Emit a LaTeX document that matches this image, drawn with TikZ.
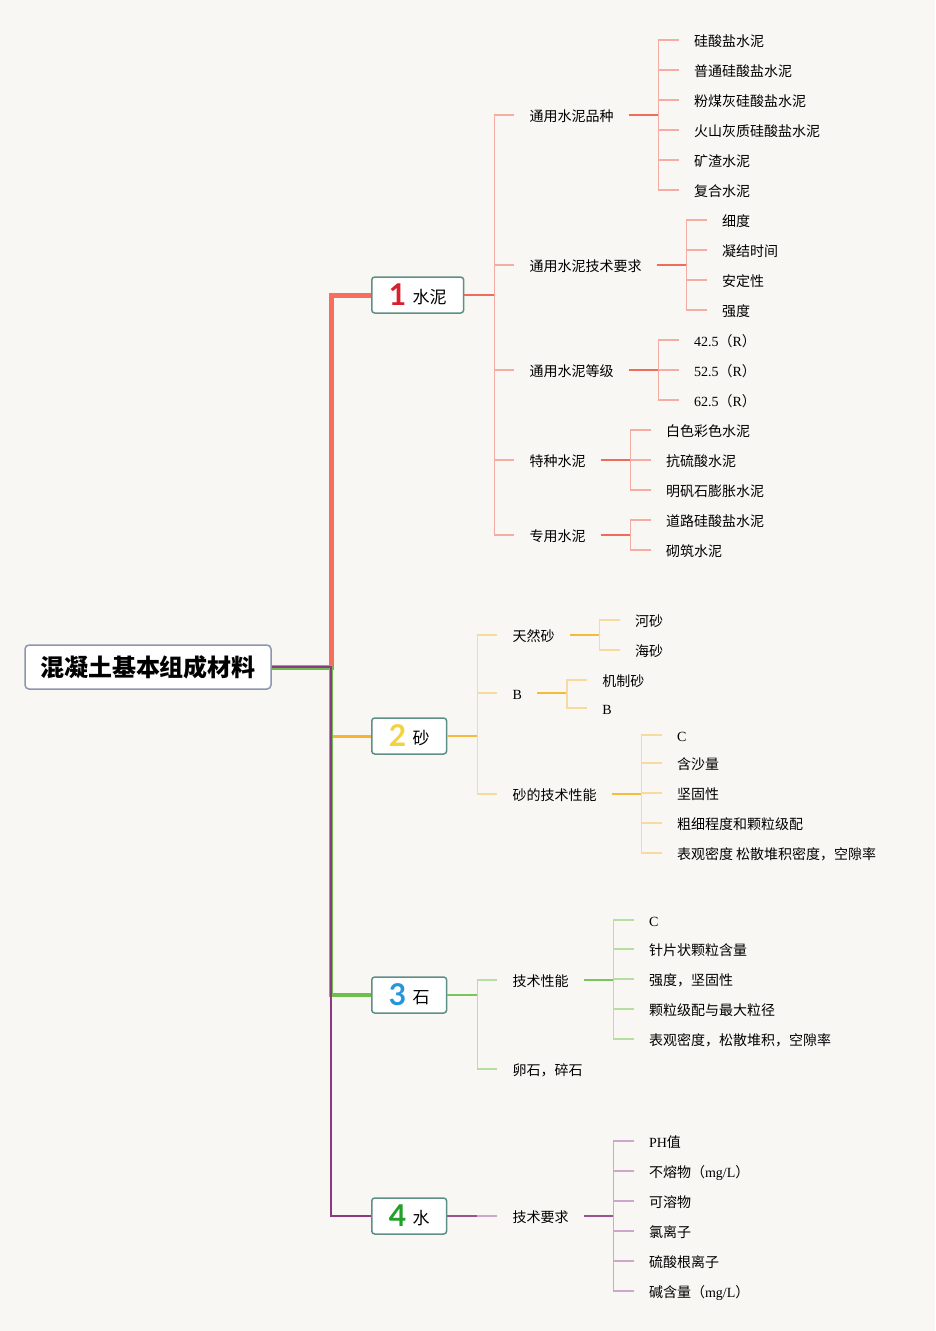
\documentclass[tikz,border=0pt]{standalone}
\usepackage{fontspec}
\setmainfont{Liberation Serif}
\newfontfamily\cjk{Noto Sans CJK SC}
\newfontfamily\numfont{Lato}
\usetikzlibrary{calc}

\definecolor{bg}{HTML}{F8F7F4}
\definecolor{boxline}{HTML}{5E8F86}
\definecolor{rootline}{HTML}{8C96B0}
% couleurs des branches
\definecolor{redtrunk}{HTML}{F76D5E}
\definecolor{redstub}{HTML}{EF6C5C}
\definecolor{redtwig}{HTML}{F5ADA3}
\definecolor{orangetrunk}{HTML}{F7B52E}
\definecolor{orangestub}{HTML}{F5BC3C}
\definecolor{orangetwig}{HTML}{F9DA9E}
\definecolor{greentrunk}{HTML}{6DBF4B}
\definecolor{greenstub}{HTML}{7CC55D}
\definecolor{greentwig}{HTML}{B6E0A2}
\definecolor{purpletrunk}{HTML}{8B3A82}
\definecolor{purplestub}{HTML}{9A5292}
\definecolor{purpletwig}{HTML}{CFA7CA}
\definecolor{numred}{HTML}{D9202F}
\definecolor{numyellow}{HTML}{F2D23E}
\definecolor{numblue}{HTML}{2497DC}
\definecolor{numgreen}{HTML}{22A02A}

\newcommand{\serif}[1]{{\rmfamily #1}}
\newcommand{\digit}[2]{{\numfont\bfseries\fontsize{30}{30}\selectfont\color{#1}#2}}
% une fourche : parent -> enfants
\newcommand{\branch}[3]{%
  \draw[stub=#2] (#1.east) -- ++(30,0) coordinate (#1-b);
  \coordinate (#1-k) at ($(#1-b)+(20,0)$);
  \foreach \ty/\lbl [count=\i] in {#3} {
    \node[leaf] (#1-\i) at (#1-k |- 0,\ty) {\lbl};
    \draw[twig=#2] (#1-b) |- (#1-\i.west);
  }%
}

\begin{document}
\begin{tikzpicture}[
  x=1pt, y=-1pt,
  root/.style={draw=rootline, line width=1.5pt, fill=white, rounded corners=4pt,
    minimum width=246pt, minimum height=44pt, inner sep=0pt,
    font=\cjk\bfseries\fontsize{24}{28}\selectfont},
  box/.style={draw=boxline, line width=1.5pt, fill=white, rounded corners=3pt,
    anchor=west, minimum height=36pt, inner xsep=17pt, inner ysep=0pt,
    font=\cjk\fontsize{17}{20}\selectfont},
  leaf/.style={anchor=west, inner xsep=15pt, inner ysep=2pt,
    text height=14pt, text depth=1pt, font=\cjk\fontsize{14}{17}\selectfont},
  trunk/.style={draw=#1trunk},
  stub/.style={draw=#1stub, line width=1.6pt},
  twig/.style={draw=#1twig, line width=1.3pt},
]
  \fill[bg] (0,0) rectangle (935,1331);
  \useasboundingbox (0,0) rectangle (935,1331);

  % Racine et tronc
  \node[root] (root) at (148,667) {混凝土基本组成材料};
  \coordinate (trunk) at (331,667);

  \node[box] (n1) at (371,295)  {\digit{numred}{1}\hspace{6.5pt}\raisebox{2pt}{水泥}};
  \node[box] (n2) at (371,736)  {\digit{numyellow}{2}\hspace{6.5pt}\raisebox{2pt}{砂}};
  \node[box] (n3) at (371,995)  {\digit{numblue}{3}\hspace{6.5pt}\raisebox{2pt}{石}};
  \node[box] (n4) at (371,1216) {\digit{numgreen}{4}\hspace{6.5pt}\raisebox{2pt}{水}};

  \draw[trunk=red, line width=5pt]    (root.east) -- (trunk) |- (n1.west);
  \draw[trunk=orange, line width=3pt] (root.east) -- (trunk) |- (n2.west);
  \draw[trunk=green, line width=4pt]  (root.east) -- (trunk) |- (n3.west);
  \draw[trunk=purple, line width=2pt] (root.east) -- (trunk) |- (n4.west);

  % 1 水泥
  \branch{n1}{red}{115/通用水泥品种, 265/通用水泥技术要求, 370/通用水泥等级, 460/特种水泥, 535/专用水泥}
  \branch{n1-1}{red}{40/硅酸盐水泥, 70/普通硅酸盐水泥, 100/粉煤灰硅酸盐水泥, 130/火山灰质硅酸盐水泥, 160/矿渣水泥, 190/复合水泥}
  \branch{n1-2}{red}{220/细度, 250/凝结时间, 280/安定性, 310/强度}
  \branch{n1-3}{red}{340/{\serif{42.5}（\serif{R}）}, 370/{\serif{52.5}（\serif{R}）}, 400/{\serif{62.5}（\serif{R}）}}
  \branch{n1-4}{red}{430/白色彩色水泥, 460/抗硫酸水泥, 490/明矾石膨胀水泥}
  \branch{n1-5}{red}{520/道路硅酸盐水泥, 550/砌筑水泥}

  % 2 砂
  \branch{n2}{orange}{635/天然砂, 693/{\serif{B}}, 794/砂的技术性能}
  \branch{n2-1}{orange}{620/河砂, 650/海砂}
  \branch{n2-2}{orange}{680/机制砂, 708/{\serif{B}}}
  \branch{n2-3}{orange}{735/{\serif{C}}, 763/含沙量, 793/坚固性, 823/粗细程度和颗粒级配, 853/表观密度 松散堆积密度，空隙率}

  % 3 石
  \branch{n3}{green}{980/技术性能, 1069/卵石，碎石}
  \branch{n3-1}{green}{920/{\serif{C}}, 949/针片状颗粒含量, 979/强度，坚固性, 1009/颗粒级配与最大粒径, 1039/表观密度，松散堆积，空隙率}

  % 4 水
  \branch{n4}{purple}{1216/技术要求}
  \branch{n4-1}{purple}{1141/{\serif{PH}值}, 1171/{不熔物（\serif{mg/L}）}, 1201/可溶物, 1231/氯离子, 1261/硫酸根离子, 1291/{碱含量（\serif{mg/L}）}}
\end{tikzpicture}
\end{document}
